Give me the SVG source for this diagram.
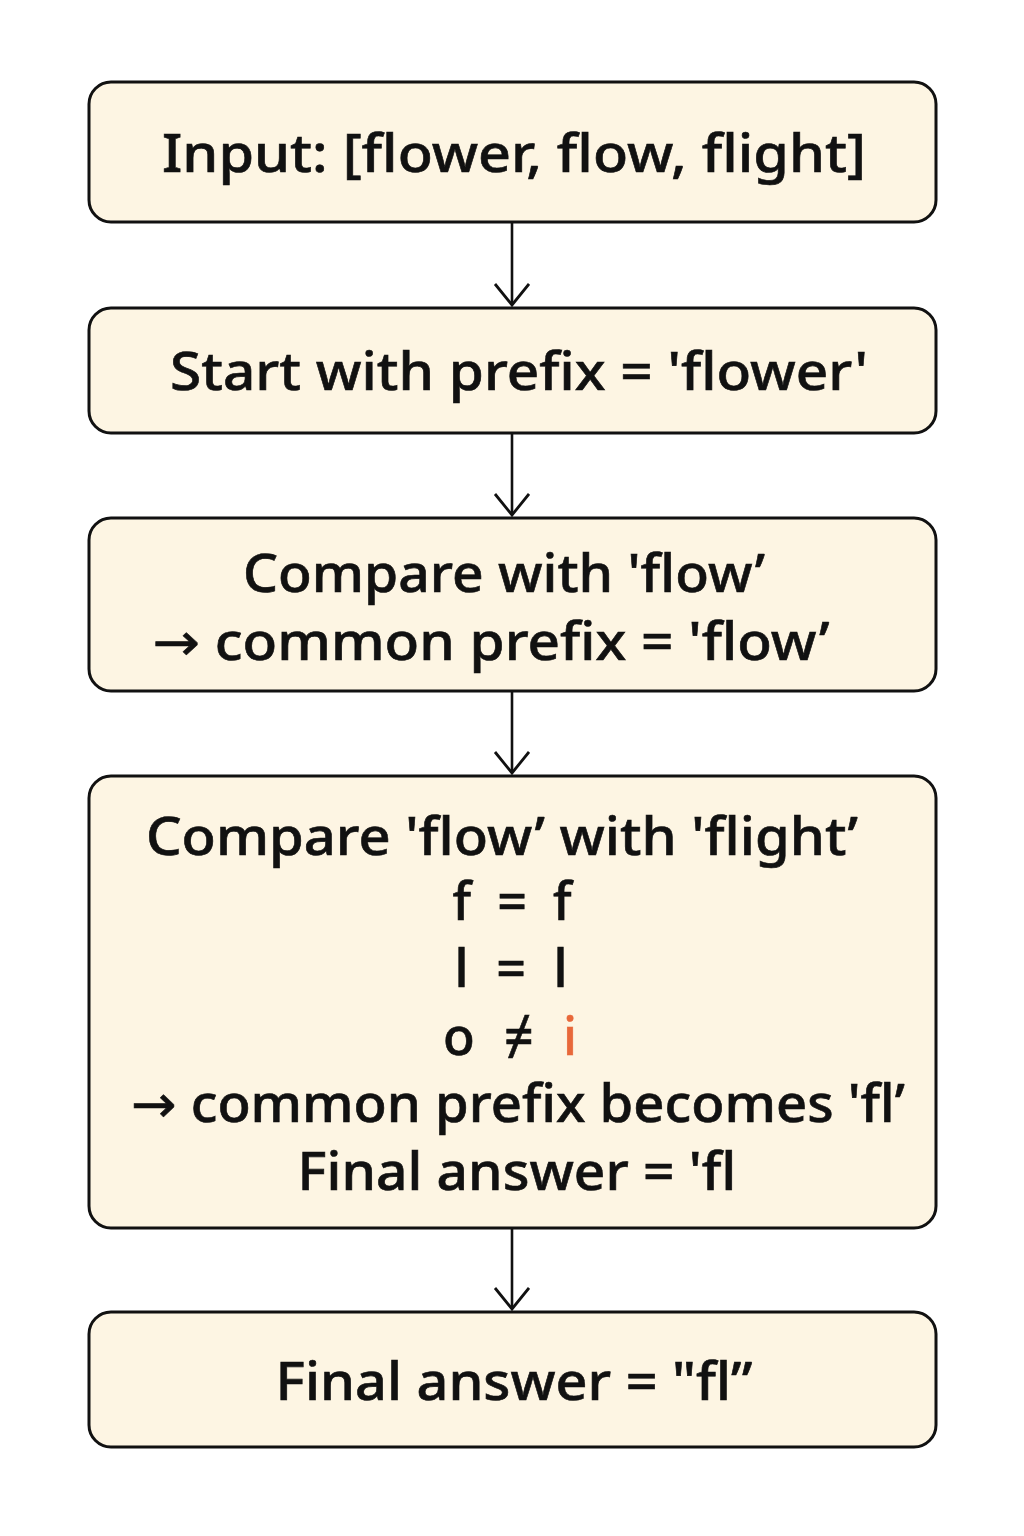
<svg xmlns="http://www.w3.org/2000/svg" width="1024" height="1536" viewBox="0 0 1024 1536">
<style>
.box{fill:#FDF5E3;stroke:#111;stroke-width:3}
.t{font-family:"Noto Sans","DejaVu Sans",sans-serif;font-size:52px;font-weight:500;fill:#111;text-anchor:middle;stroke:#111;stroke-width:0.6}
.c{stroke:#111;stroke-width:2.6;fill:none}
</style>
<defs>
<marker id="ah" markerWidth="28" markerHeight="40" refX="22" refY="18" orient="auto" markerUnits="userSpaceOnUse">
<path d="M1,1 L22,18 L1,35" fill="none" stroke="#111" stroke-width="2.8"/>
</marker>
</defs>
<rect width="1024" height="1536" fill="#fff"/>
<g id="connectors">
<line class="c" x1="512" y1="222" x2="512" y2="305" marker-end="url(#ah)"/>
<line class="c" x1="512" y1="433" x2="512" y2="515" marker-end="url(#ah)"/>
<line class="c" x1="512" y1="691" x2="512" y2="773" marker-end="url(#ah)"/>
<line class="c" x1="512" y1="1228" x2="512" y2="1309" marker-end="url(#ah)"/>
</g>
<g id="n1">
<rect class="box" x="89" y="82" width="847" height="140" rx="22"/>
<text class="t" x="514" y="172" textLength="704" lengthAdjust="spacingAndGlyphs">Input: [flower, flow, flight]</text>
</g>
<g id="n2">
<rect class="box" x="89" y="308" width="847" height="125" rx="22"/>
<text class="t" x="519" y="390" textLength="698" lengthAdjust="spacingAndGlyphs">Start with prefix = 'flower'</text>
</g>
<g id="n3">
<rect class="box" x="89" y="518" width="847" height="173" rx="22"/>
<text class="t" x="504" y="592" textLength="522" lengthAdjust="spacingAndGlyphs">Compare with 'flow’</text>
<text class="t" x="491" y="660" textLength="677" lengthAdjust="spacingAndGlyphs">→ common prefix = 'flow’</text>
</g>
<g id="n4">
<rect class="box" x="89" y="776" width="847" height="452" rx="22"/>
<text class="t" x="502" y="855" textLength="712" lengthAdjust="spacingAndGlyphs">Compare 'flow’ with 'flight’</text>
<text class="t" x="512" y="920" textLength="119" lengthAdjust="spacing">f = f</text>
<text class="t" x="511" y="987" textLength="113" lengthAdjust="spacing">l = l</text>
<text class="t" x="510" y="1055" textLength="134" lengthAdjust="spacing">o ≠ <tspan fill="#E8683A" stroke="#E8683A">i</tspan></text>
<text class="t" x="518" y="1122" textLength="774" lengthAdjust="spacingAndGlyphs">→ common prefix becomes 'fl’</text>
<text class="t" x="517" y="1190" textLength="439" lengthAdjust="spacingAndGlyphs">Final answer = 'fl</text>
</g>
<g id="n5">
<rect class="box" x="89" y="1312" width="847" height="135" rx="22"/>
<text class="t" x="514" y="1400" textLength="477" lengthAdjust="spacingAndGlyphs">Final answer = "fl”</text>
</g>
</svg>
